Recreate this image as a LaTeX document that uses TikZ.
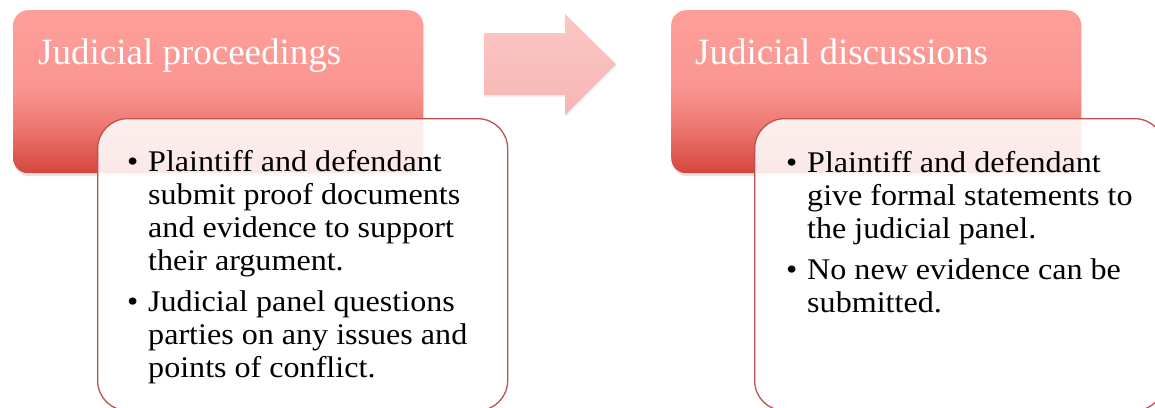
\documentclass[tikz,border=0pt]{standalone}
\usepackage{fontspec}
\setmainfont{Liberation Serif}
\newfontfamily\bodyfont[FakeStretch=1.07]{Liberation Serif}
\usetikzlibrary{shadows}
\pgfdeclareverticalshading{hdrshade}{100bp}{rgb(0bp)=(0.835,0.275,0.235); rgb(25bp)=(0.835,0.275,0.235); rgb(40bp)=(0.93,0.48,0.45); rgb(52bp)=(0.98,0.59,0.57); rgb(75bp)=(1,0.62,0.60); rgb(100bp)=(1,0.62,0.60)}
\definecolor{boxline}{RGB}{192,80,77}
\definecolor{arrtop}{RGB}{252,198,196}
\definecolor{arrbot}{RGB}{245,183,180}
\begin{document}
\begin{tikzpicture}[x=1pt,y=-1pt,
  hdr/.style={rectangle, rounded corners=15pt, minimum width=410pt, minimum height=163pt,
    inner sep=0pt, shading=hdrshade, anchor=north west,
    drop shadow={shadow xshift=1pt, shadow yshift=-3pt, opacity=0.22}},
  cbox/.style={rectangle, rounded corners=30pt, minimum width=410pt, minimum height=292pt,
    inner sep=0pt, anchor=north west, draw=boxline, line width=1.3pt, fill=white, fill opacity=0.88, draw opacity=1},
  hdrtext/.style={anchor=base west, inner sep=0pt, text=white, font=\fontsize{37}{40}\selectfont},
  bodytext/.style={anchor=base west, inner sep=0pt, text=black, font=\bodyfont\fontsize{30}{33}\selectfont}
]
\useasboundingbox (0,0) rectangle (1155,407);
\fill[white] (0,0) rectangle (1155,407);
\clip (0,0) rectangle (1155,407);
% left group
\node[hdr] (hdrL) at (13,10) {};
\node[hdrtext] (tL) at (38,64) {Judicial proceedings};
\node[cbox] (boxL) at (97,118) {};
\node[bodytext] (bL) at (127,171) {\begin{tabular}[t]{@{}p{21pt}@{}l@{}}
\textbullet & Plaintiff and defendant\\
 & submit proof documents\\
 & and evidence to support\\
 & their argument.\\[8pt]
\textbullet & Judicial panel questions\\
 & parties on any issues and\\
 & points of conflict.
\end{tabular}};
% arrow
\shade[top color=arrtop, bottom color=arrbot,
  drop shadow={shadow xshift=1pt, shadow yshift=-2pt, opacity=0.12}]
  (484,33) -- (565,33) -- (565,14) -- (616,64) -- (565,115) -- (565,95) -- (484,95) -- cycle;
% right group
\node[hdr] (hdrR) at (671,10) {};
\node[hdrtext] (tR) at (695,64) {Judicial discussions};
\node[cbox] (boxR) at (754,118) {};
\node[bodytext] (bR) at (786,172) {\begin{tabular}[t]{@{}p{21pt}@{}l@{}}
\textbullet & Plaintiff and defendant\\
 & give formal statements to\\
 & the judicial panel.\\[8pt]
\textbullet & No new evidence can be\\
 & submitted.
\end{tabular}};
\end{tikzpicture}
\end{document}
